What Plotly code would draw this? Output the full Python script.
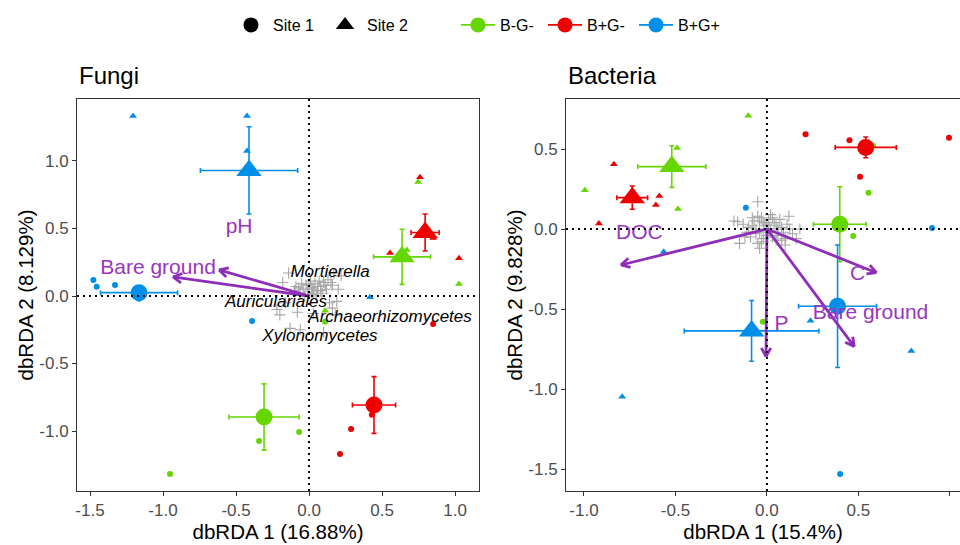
import math
import plotly.graph_objects as go

# ---------------- data ----------------
groups = ["B-G-", "B+G-", "B+G+"]
group_colors = {"B-G-": "#66D600", "B+G-": "#EE0000", "B+G+": "#008FE8"}
sites = ["Site 1", "Site 2"]
site_symbols = {"Site 1": "circle", "Site 2": "triangle-up"}

# Fungi - sample points (site, group, x, y)
fungi_pts_site = ["Site 1"]*4 + ["Site 1"]*4 + ["Site 1"]*5 + ["Site 2"]*4 + ["Site 2"]*4 + ["Site 2"]*4
fungi_pts_group = (["B-G-"]*4 + ["B+G-"]*4 + ["B+G+"]*5 +
                   ["B-G-"]*4 + ["B+G-"]*4 + ["B+G+"]*4)
fungi_pts_x = [-0.068, -0.342, -0.952, 0.11,
               0.85, 0.288, 0.212, 0.43,
               -1.477, -1.454, -1.329, -0.39, -1.165,
               0.747, 1.027, 0.11, 0.67,
               0.76, 0.555, 1.027, 0.85,
               -1.205, -0.425, -0.425, 0.418]
fungi_pts_y = [-1.007, -1.074, -1.318, -0.19,
               -0.207, -0.985, -1.17, -0.88,
               0.118, 0.069, 0.081, -0.185, -0.02,
               0.844, 0.089, -0.11, 0.34,
               0.88, 0.318, 0.28, 0.43,
               1.333, 1.333, 1.074, -0.01]

# Fungi - group means with errors
fungi_mean_site = ["Site 1", "Site 1", "Site 1", "Site 2", "Site 2", "Site 2"]
fungi_mean_group = ["B-G-", "B+G-", "B+G+", "B-G-", "B+G-", "B+G+"]
fungi_mean_x = [-0.308, 0.445, -1.164, 0.637, 0.795, -0.411]
fungi_mean_y = [-0.896, -0.807, 0.025, 0.29, 0.47, 0.93]
fungi_mean_xerr = [0.24, 0.148, 0.264, 0.195, 0.096, 0.333]
fungi_mean_yerr = [0.245, 0.21, 0.04, 0.204, 0.137, 0.323]

# Fungi - taxa scores (grey crosses)
fungi_taxa_x = [-0.18, -0.13, -0.06, 0.10, 0.18, 0.16, 0.19, 0.03, -0.16, -0.14, 0.17, -0.20,
                -0.22, 0.14, 0.16, -0.10, -0.08, 0.20, 0.22,
                -0.06, -0.04, -0.02, 0.00, 0.02, 0.04, 0.06, 0.08, 0.10, 0.12, -0.05, 0.01,
                0.05, 0.09, -0.03, 0.03, 0.07, -0.01, 0.11, 0.00, 0.06, 0.03, -0.07, 0.08,
                0.02, 0.13, 0.15, -0.09]
fungi_taxa_y = [0.10, -0.24, -0.25, -0.27, -0.14, 0.08, -0.04, -0.13, -0.05, 0.17, 0.17, -0.14,
                -0.10, -0.05, -0.09, 0.04, -0.12, 0.05, 0.15,
                0.02, 0.05, 0.08, 0.03, 0.06, 0.09, 0.04, 0.07, 0.10, 0.05, 0.09, 0.11,
                0.00, 0.02, 0.00, 0.02, 0.11, 0.05, 0.08, 0.09, 0.07, 0.05, 0.06, 0.04,
                0.01, 0.12, 0.10, 0.07]

# Fungi - environmental vectors and labels
fungi_vec_x = [-0.616, -0.932]
fungi_vec_y = [0.193, 0.141]
fungi_env_labels = ["Bare ground", "pH"]
fungi_env_lx = [-1.034, -0.479]
fungi_env_ly = [0.20, 0.504]
fungi_taxa_labels = ["Mortierella", "Auriculariales", "Archaeorhizomycetes", "Xylonomycetes"]
fungi_taxa_lx = [0.144, -0.226, 0.555, 0.075]
fungi_taxa_ly = [0.17, -0.052, -0.163, -0.304]

# Bacteria - sample points
bact_pts_site = ["Site 1"]*4 + ["Site 1"]*4 + ["Site 1"]*3 + ["Site 2"]*4 + ["Site 2"]*4 + ["Site 2"]*4
bact_pts_group = (["B-G-"]*4 + ["B+G-"]*4 + ["B+G+"]*3 +
                  ["B-G-"]*4 + ["B+G-"]*4 + ["B+G+"]*4)
bact_pts_x = [0.58, 0.555, 0.471, -0.022,
              0.211, 0.451, 0.995, 0.509,
              -0.115, 0.902, 0.40,
              -0.102, -0.491, -0.995, -0.486,
              -0.836, -0.588, -0.607, -0.918,
              -0.564, 0.238, 0.789, -0.791]
bact_pts_y = [0.521, 0.227, -0.044, -0.58,
              0.592, 0.554, 0.571, 0.327,
              0.133, 0.006, -1.531,
              0.708, 0.506, 0.242, 0.125,
              0.404, 0.206, 0.15, 0.035,
              -0.142, -0.573, -0.7625, -1.048]

bact_mean_site = ["Site 1", "Site 1", "Site 1", "Site 2", "Site 2", "Site 2"]
bact_mean_group = ["B-G-", "B+G-", "B+G+", "B-G-", "B+G-", "B+G+"]
bact_mean_x = [0.398, 0.54, 0.386, -0.52, -0.736, -0.084]
bact_mean_y = [0.03, 0.51, -0.483, 0.39, 0.196, -0.637]
bact_mean_xerr = [0.144, 0.167, 0.213, 0.186, 0.084, 0.368]
bact_mean_yerr = [0.234, 0.065, 0.383, 0.13, 0.073, 0.19]

bact_taxa_x = [-0.05, -0.16, -0.15, -0.05, 0.10, 0.125, 0.14, -0.13, 0.16, -0.12, 0.12, -0.18,
               0.18, 0.10, -0.04,
               -0.08, -0.06, -0.04, -0.02, 0.00, 0.02, 0.04, 0.06, 0.08, -0.09, -0.05, 0.03,
               0.07, -0.03, 0.05, 0.01, -0.01, 0.00, -0.07, 0.09, -0.02, 0.03, 0.05, -0.06,
               0.01, -0.04, 0.06, -0.10, 0.02, -0.03, 0.11, -0.11, 0.08, -0.08]
bact_taxa_y = [0.17, 0.045, -0.09, -0.09, -0.06, 0.00, -0.03, 0.03, -0.06, -0.05, 0.08, 0.05,
               0.00, -0.10, -0.12,
               0.02, -0.03, 0.05, -0.06, 0.03, -0.02, 0.04, -0.04, 0.01, -0.05, 0.08, 0.07,
               0.06, -0.08, -0.07, 0.00, 0.02, -0.04, 0.05, -0.02, 0.04, -0.05, 0.02, 0.00,
               0.06, -0.02, 0.00, 0.01, 0.09, 0.07, 0.03, -0.02, -0.07, 0.07]

bact_vec_x = [-0.798, 0.598, 0.477, -0.005]
bact_vec_y = [-0.225, -0.273, -0.735, -0.798]
bact_env_labels = ["DOC", "C", "Bare ground", "P"]
bact_env_lx = [-0.697, 0.495, 0.566, 0.08]
bact_env_ly = [-0.027, -0.283, -0.531, -0.596]

# ---------------- layout geometry ----------------
W, H = 960, 545
FONT = "Liberation Sans, Arial, sans-serif"
PURPLE = "#8E2DB8"
GREY = "#A6A6A6"

panels = {
    "fungi": dict(xdom=[77 / W, 479 / W], ydom=[1 - 491 / H, 1 - 99 / H],
                  xr=[-1.589, 1.164], yr=[-1.444, 1.459]),
    "bact": dict(xdom=[566 / W, 1.0], ydom=[1 - 491 / H, 1 - 99 / H],
                 xr=[-1.098, 1.055], yr=[-1.6375, 0.8125]),
}

fig = go.Figure()


def px_scale(p):
    sx = (p["xdom"][1] - p["xdom"][0]) * W / (p["xr"][1] - p["xr"][0])
    sy = (p["ydom"][1] - p["ydom"][0]) * H / (p["yr"][1] - p["yr"][0])
    return sx, sy


def add_panel(p, xa, ya, pts_site, pts_group, pts_x, pts_y,
              m_site, m_group, m_x, m_y, m_xe, m_ye,
              tx, ty, vx, vy, env_lab, env_lx, env_ly,
              taxa_lab=None, taxa_lx=None, taxa_ly=None):
    # taxa crosses
    fig.add_trace(go.Scatter(x=tx, y=ty, mode="markers", xaxis=xa, yaxis=ya,
                             marker=dict(symbol="cross-thin", size=8,
                                         line=dict(width=1.1, color=GREY), color=GREY),
                             showlegend=False, hoverinfo="skip"))
    # sample points
    for s in sites:
        for g in groups:
            xs = [x for x, ss, gg in zip(pts_x, pts_site, pts_group) if ss == s and gg == g]
            ys = [y for y, ss, gg in zip(pts_y, pts_site, pts_group) if ss == s and gg == g]
            fig.add_trace(go.Scatter(x=xs, y=ys, mode="markers", xaxis=xa, yaxis=ya,
                                     marker=dict(symbol=site_symbols[s],
                                                 size=6 if s == "Site 1" else 7,
                                                 color=group_colors[g]),
                                     showlegend=False, hoverinfo="skip"))
    # means with error bars
    for i in range(len(m_x)):
        c = group_colors[m_group[i]]
        tri = m_site[i] == "Site 2"
        fig.add_trace(go.Scatter(
            x=[m_x[i]], y=[m_y[i]], mode="markers", xaxis=xa, yaxis=ya,
            marker=dict(symbol=site_symbols[m_site[i]], size=22 if tri else 17, color=c),
            error_x=dict(type="data", array=[m_xe[i]], color=c, thickness=1.6, width=2.5),
            error_y=dict(type="data", array=[m_ye[i]], color=c, thickness=1.6, width=2.5),
            showlegend=False, hoverinfo="skip"))
    # arrows (shaft + open V head, head computed in pixel space)
    sx, sy = px_scale(p)
    head = 10.0
    ax, ay = [], []
    for x, y in zip(vx, vy):
        ax += [0, x, None]
        ay += [0, y, None]
        ang = math.atan2(y * sy, x * sx)
        for da in (math.radians(28), -math.radians(28)):
            a = ang + math.pi + da
            ax += [x, x + head * math.cos(a) / sx, None]
            ay += [y, y + head * math.sin(a) / sy, None]
    fig.add_trace(go.Scatter(x=ax, y=ay, mode="lines", xaxis=xa, yaxis=ya,
                             line=dict(color=PURPLE, width=2.8),
                             showlegend=False, hoverinfo="skip"))
    # env labels
    fig.add_trace(go.Scatter(x=env_lx, y=env_ly, text=env_lab, mode="text", xaxis=xa, yaxis=ya,
                             textfont=dict(family=FONT, size=21, color="#9A35C0"),
                             showlegend=False, hoverinfo="skip"))
    if taxa_lab:
        fig.add_trace(go.Scatter(x=taxa_lx, y=taxa_ly,
                                 text=["<i>%s</i>" % t for t in taxa_lab],
                                 mode="text", xaxis=xa, yaxis=ya,
                                 textfont=dict(family=FONT, size=17, color="black"),
                                 showlegend=False, hoverinfo="skip"))


add_panel(panels["fungi"], "x", "y", fungi_pts_site, fungi_pts_group, fungi_pts_x, fungi_pts_y,
          fungi_mean_site, fungi_mean_group, fungi_mean_x, fungi_mean_y,
          fungi_mean_xerr, fungi_mean_yerr, fungi_taxa_x, fungi_taxa_y,
          fungi_vec_x, fungi_vec_y, fungi_env_labels, fungi_env_lx, fungi_env_ly,
          fungi_taxa_labels, fungi_taxa_lx, fungi_taxa_ly)
add_panel(panels["bact"], "x2", "y2", bact_pts_site, bact_pts_group, bact_pts_x, bact_pts_y,
          bact_mean_site, bact_mean_group, bact_mean_x, bact_mean_y,
          bact_mean_xerr, bact_mean_yerr, bact_taxa_x, bact_taxa_y,
          bact_vec_x, bact_vec_y, bact_env_labels, bact_env_lx, bact_env_ly)

# legend entries: one legend per entry for exact placement
LEG_FONT = dict(family=FONT, size=16, color="black")
legend_centers = [247, 341, 474, 561, 652]  # symbol centres (px)
legend_names = ["legend", "legend2", "legend3", "legend4", "legend5"]
k = 0
for s in sites:
    fig.add_trace(go.Scatter(x=[None], y=[None], mode="markers", name=s, legend=legend_names[k],
                             marker=dict(symbol=site_symbols[s], size=15 if s == "Site 1" else 18,
                                         color="black")))
    k += 1
for g in groups:
    fig.add_trace(go.Scatter(x=[None], y=[None], mode="lines+markers", name=g,
                             legend=legend_names[k],
                             line=dict(color=group_colors[g], width=1.6),
                             marker=dict(symbol="circle", size=15, color=group_colors[g])))
    k += 1

legend_layout = {}
for name, cx in zip(legend_names, legend_centers):
    legend_layout[name] = dict(orientation="h", x=(cx - 18) / W, y=1 - 8 / H,
                               xanchor="left", yanchor="top", font=LEG_FONT,
                               bgcolor="rgba(0,0,0,0)", itemclick=False, itemwidth=34)

# reference dotted lines (drawn on top)
shapes = []
DOT = dict(color="black", width=2, dash="2px,4px")
for xa, ya in (("x", "y"), ("x2", "y2")):
    shapes.append(dict(type="line", xref=xa + " domain", yref=ya, x0=0, x1=1, y0=0, y1=0,
                       line=DOT, layer="above"))
    shapes.append(dict(type="line", xref=xa, yref=ya + " domain", x0=0, x1=0, y0=0, y1=1,
                       line=DOT, layer="above"))

axis_common = dict(showgrid=False, zeroline=False, showline=True, linecolor="#333333",
                   linewidth=1, ticks="outside", ticklen=4, tickcolor="#333333",
                   automargin=False,
                   tickfont=dict(family=FONT, size=17, color="#4D4D4D"),
                   title_font=dict(family=FONT, size=20.5, color="black"))

fp, bp = panels["fungi"], panels["bact"]
fig.update_layout(
    width=W, height=H, margin=dict(l=0, r=0, t=0, b=0, autoexpand=False),
    plot_bgcolor="white", paper_bgcolor="white",
    font=dict(family=FONT, color="black"),
    xaxis=dict(domain=fp["xdom"], range=fp["xr"], anchor="y", mirror=True,
               tickvals=[-1.5, -1.0, -0.5, 0.0, 0.5, 1.0],
               ticktext=["-1.5", "-1.0", "-0.5", "0.0", "0.5", "1.0"],
               title=dict(text="dbRDA 1 (16.88%)", standoff=4), **axis_common),
    yaxis=dict(domain=fp["ydom"], range=fp["yr"], anchor="x", mirror=True,
               tickvals=[-1.0, -0.5, 0.0, 0.5, 1.0],
               ticktext=["-1.0", "-0.5", "0.0", "0.5", "1.0"],
               title=dict(text="dbRDA 2 (8.129%)", standoff=0), **axis_common),
    xaxis2=dict(domain=bp["xdom"], range=bp["xr"], anchor="y2", mirror=True,
                tickvals=[-1.0, -0.5, 0.0, 0.5, 1.0],
                ticktext=["-1.0", "-0.5", "0.0", "0.5", "1.0"],
                title=dict(text="dbRDA 1 (15.4%)", standoff=4), **axis_common),
    yaxis2=dict(domain=bp["ydom"], range=bp["yr"], anchor="x2", mirror=False,
                tickvals=[-1.5, -1.0, -0.5, 0.0, 0.5],
                ticktext=["-1.5", "-1.0", "-0.5", "0.0", "0.5"],
                title=dict(text="dbRDA 2 (9.828%)", standoff=0), **axis_common),
    shapes=shapes,
    annotations=[
        dict(text="Fungi", xref="paper", yref="paper", x=77 / W, y=1 - 75 / H,
             xanchor="left", yanchor="middle", showarrow=False,
             font=dict(family=FONT, size=24, color="black")),
        dict(text="Bacteria", xref="paper", yref="paper", x=566 / W, y=1 - 75 / H,
             xanchor="left", yanchor="middle", showarrow=False,
             font=dict(family=FONT, size=24, color="black")),
    ],
    **legend_layout,
)

fig.write_html("out.html")
